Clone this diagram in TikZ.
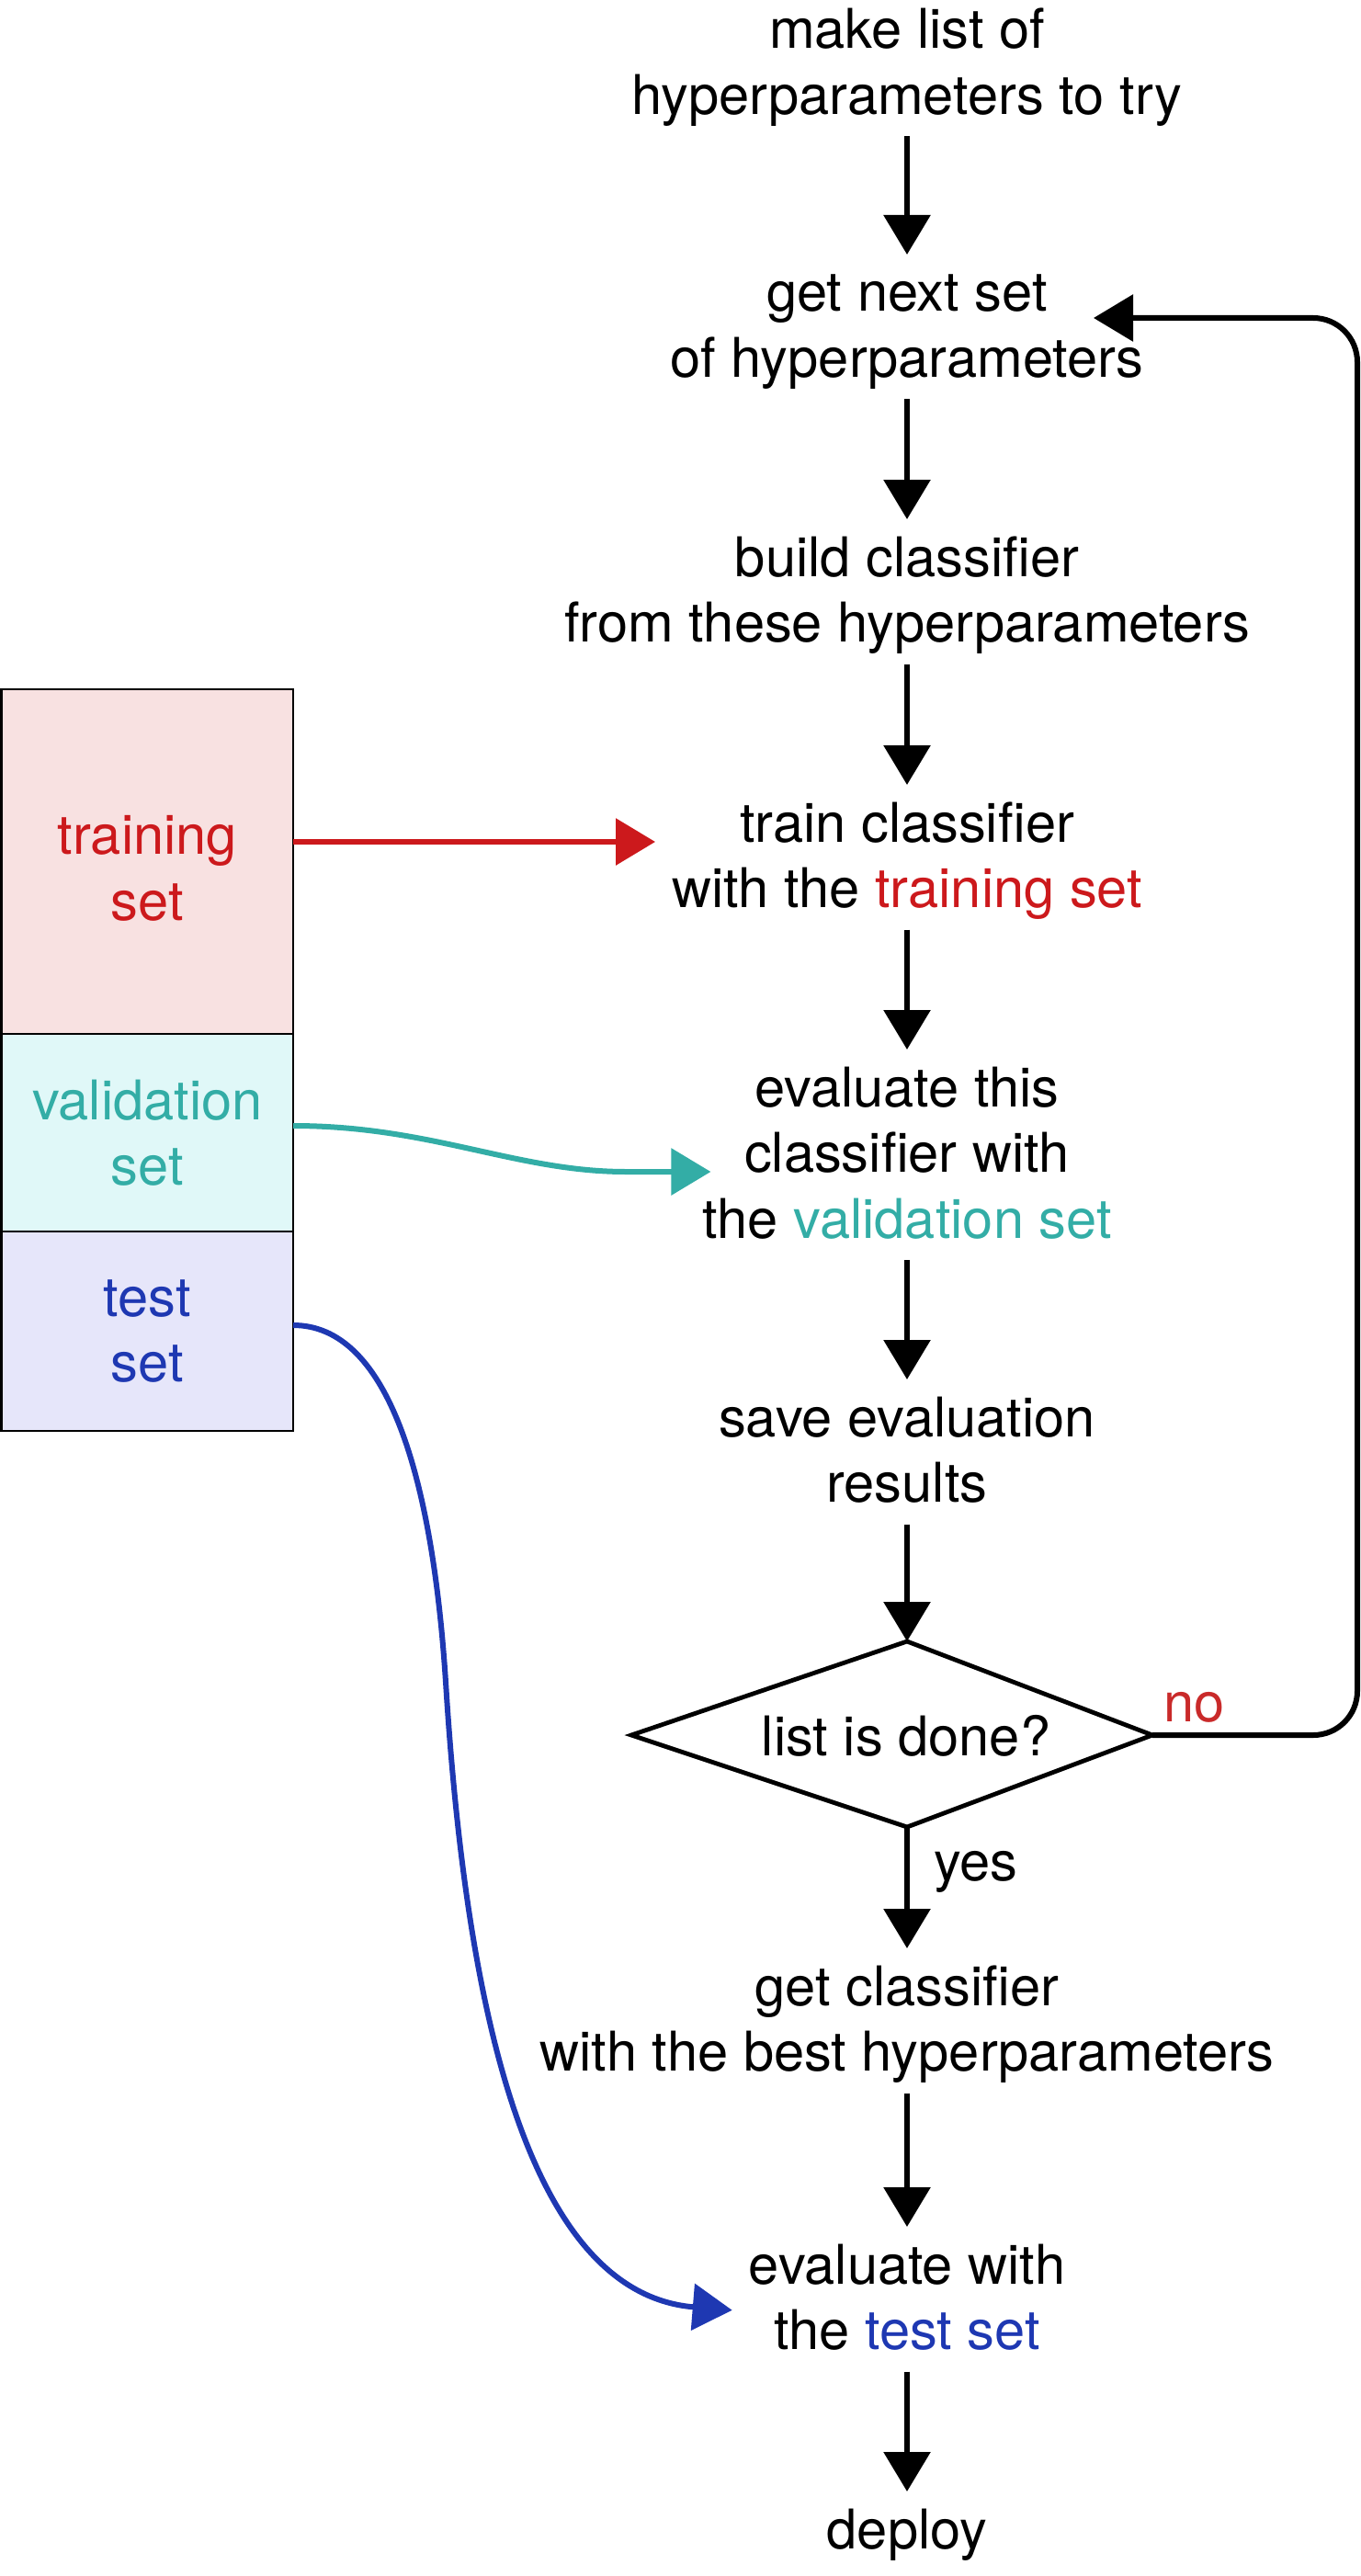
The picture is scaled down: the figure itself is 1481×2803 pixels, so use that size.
\documentclass[tikz,border=0pt]{standalone}
\usepackage{fontspec}
\setmainfont{TeX Gyre Heros}
\usetikzlibrary{arrows.meta}
\definecolor{trainred}{HTML}{CC191C}
\definecolor{trainfill}{HTML}{F8E1E1}
\definecolor{valteal}{HTML}{33ADA6}
\definecolor{valfill}{HTML}{E0F8F8}
\definecolor{testblue}{HTML}{1E38B2}
\definecolor{testfill}{HTML}{E6E6FA}
\definecolor{nored}{HTML}{C92A2A}
\newcommand\fz{\fontsize{29.8pt}{35.75pt}\selectfont}
\newcommand\tp{\rule{0pt}{31pt}}
\newcommand\bt{\rule[-12pt]{0pt}{12pt}}
\begin{document}
\begin{tikzpicture}[x=0.5pt,y=-0.5pt,
  flow/.style={align=center, inner xsep=9pt, inner ysep=0pt, outer sep=0pt, anchor=north, font=\fz},
  setbox/.style={draw=black, line width=1.3pt, minimum width=158.7pt, inner sep=0pt, outer sep=0pt},
  settext/.style={font=\fz, align=center, inner sep=0pt},
  lbl/.style={font=\fz, inner sep=0pt, anchor=base west},
  arr/.style={line width=3pt, -{Triangle[length=21.5pt,width=25pt]}},
  carr/.style={line width=3pt, -{Triangle[length=21.5pt,width=25pt]}}
]
\useasboundingbox (0,0) rectangle (1481,2803);

% left set boxes
\node[setbox, fill=trainfill, minimum height=187.5pt] (train) at (160.3,937.5) {};
\node[setbox, fill=valfill, minimum height=107.5pt] (val) at (160.3,1232.5) {};
\node[setbox, fill=testfill, minimum height=108.5pt] (test) at (160.3,1448.5) {};
\node[settext, text=trainred] (traintxt) at (160.3,945) {training\\set};
\node[settext, text=valteal] (valtxt) at (160.3,1232.5) {validation\\set};
\node[settext, text=testblue] (testtxt) at (160.3,1448.5) {test\\set};

% flow nodes
\node[flow] (n1) at (987,-9.3) {\tp make list of\\hyperparameters to try\bt};
\node[flow] (n2) at (987,277) {\tp get next set\\of hyperparameters\bt};
\node[flow] (n3) at (987,565) {\tp build classifier\\from these hyperparameters\bt};
\node[flow] (n4) at (987,854) {\tp train classifier\\with the \textcolor{trainred}{training set}\bt};
\node[flow] (n5) at (987,1142) {\tp evaluate this\\classifier with\\the \textcolor{valteal}{validation set}\bt};
\node[flow] (n6) at (987,1501) {\tp save evaluation\\results\bt};
\node[flow] (n8) at (987,2120) {\tp get classifier\\with the best hyperparameters\bt};
\node[flow] (n9) at (987,2423) {\tp evaluate with\\the \textcolor{testblue}{test set}\bt};
\node[flow] (n10) at (987,2711) {\tp deploy\bt};

% decision
\coordinate (dl) at (687,1888);
\coordinate (dt) at (987,1786);
\coordinate (dr) at (1254,1888);
\coordinate (db) at (987,1988);
\draw[line width=2.4pt, line join=miter] (dl) -- (dt) -- (dr) -- (db) -- cycle;
\node[font=\fz, inner sep=0pt, anchor=base] (dtext) at (986,1910) {list is done?};
\node[lbl, text=nored] (no) at (1266,1873) {no};
\node[lbl] (yes) at (1016,2046) {yes};

% main arrows
\draw[arr] (n1.south) -- (n2.north);
\draw[arr] (n2.south) -- (n3.north);
\draw[arr] (n3.south) -- (n4.north);
\draw[arr] (n4.south) -- (n5.north);
\draw[arr] (n5.south) -- (n6.north);
\draw[arr] (n6.south) -- (dt);
\draw[arr] (db) -- (n8.north);
\draw[arr] (n8.south) -- (n9.north);
\draw[arr] (n9.south) -- (n10.north);

% loop back
\coordinate (loopx) at (1477,346);
\coordinate (loopend) at (1190,346);
\draw[arr, rounded corners=24pt] (dr) -| (loopx) -- (loopend);

% set arrows
\coordinate (rs) at ([yshift=10.75pt]train.east);
\draw[carr, draw=trainred] (rs) -- (rs -| n4.west);

\coordinate (vs) at ([yshift=3.75pt]val.east);
\coordinate (vend) at ([xshift=13.5pt,yshift=-9.25pt]n5.west);
\draw[carr, draw=valteal] (vs) .. controls +(150,0) and +(-120,0) .. ([xshift=-46pt]vend) -- (vend);

\coordinate (ts) at ([yshift=3.25pt]test.east);
\coordinate (tend) at ([yshift=-6pt]n9.west);
\draw[carr, draw=testblue] (ts) .. controls +(101,0) and +(-15,-230) .. (485,1830) .. controls +(20,320) and +(-233,-19) .. (tend);
\end{tikzpicture}
\end{document}
